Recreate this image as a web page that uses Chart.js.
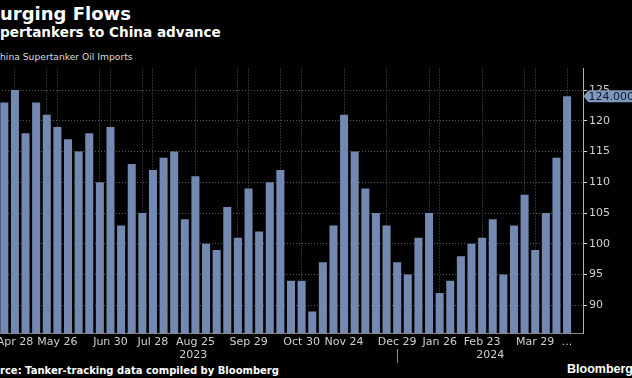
<!DOCTYPE html>
<html>
<head>
<meta charset="utf-8">
<script src="https://cdn.jsdelivr.net/npm/chart.js@4/dist/chart.umd.min.js"></script>
<style>
  html, body { margin: 0; padding: 0; background: #000; }
  #wrap { position: relative; width: 632px; height: 378px; overflow: hidden; background: #000; }
  .t { position: absolute; white-space: nowrap; line-height: 1; font-family: "DejaVu Sans", sans-serif; color: #fff; }
  #title { font-weight: bold; font-size: 18px; top: 4.8px; }
  #sub { font-weight: bold; font-size: 13.6px; top: 26.2px; }
  #unit { font-size: 9.2px; top: 51.5px; color: #ddd; }
  #src { font-weight: bold; font-size: 10px; top: 365.5px; }
  #brand { font-family: "Liberation Sans", sans-serif; font-weight: bold; font-size: 12.5px; top: 363px; right: -1px; }
  canvas { position: absolute; left: -1px; top: 60px; }
</style>
</head>
<body>
<div id="wrap">
  <div class="t" id="title"><span class="cut">S</span>urging Flows</div>
  <div class="t" id="sub"><span class="cut">Su</span>pertankers to China advance</div>
  <div class="t" id="unit"><span class="cut">C</span>hina Supertanker Oil Imports</div>
  <div class="t" id="src"><span class="cut">Sou</span>rce: Tanker-tracking data compiled by Bloomberg</div>
  <div class="t" id="brand">Bloomberg</div>
  <canvas id="c" width="640" height="318"></canvas>
</div>
<script>
// ---- data ----
const imports = [123,125,118,123,121,119,117,115,118,110,119,103,113,105,112,114,115,104,111,100,
                 99,106,101,109,102,110,112,94,94,89,97,103,121,115,109,105,103,97,95,101,
                 105,92,94,98,100,101,104,95,103,108,99,105,114,124];
const tickIdx  = [1, 5, 10, 14, 18, 23, 28, 32, 37, 41, 45, 50, 53];
const tickText = ['Apr 28','May 26','Jun 30','Jul 28','Aug 25','Sep 29','Oct 30','Nov 24','Dec 29','Jan 26','Feb 23','Mar 29','...'];
const gridIdx  = [1,4,5,9,10,13,14,18,22,23,26,28,32,36,40,41,45,49,50,53];
const yTicks   = [90, 95, 100, 105, 110, 115, 120, 125];
const years    = ['2023', '2024'];
const lastValueText = '124.000';

// categories (one trailing empty slot for right padding)
const categories = new Array(imports.length + 1).fill('');
tickIdx.forEach((ix, k) => { categories[ix] = tickText[k]; });

// cut header prefixes (reference is cropped on the left)
document.querySelectorAll('.t').forEach(el => {
  const cut = el.querySelector('.cut');
  if (cut) el.style.left = (-cut.getBoundingClientRect().width) + 'px';
});

const FONT = "'DejaVu Sans', sans-serif";
Chart.defaults.font.family = FONT;

const CW = 640, CH = 318;
const AREA_RIGHT = 584, AREA_BOTTOM = 273;

const extras = {
  id: 'extras',
  afterDraw(chart) {
    const ctx = chart.ctx, xs = chart.scales.x, ys = chart.scales.y, ca = chart.chartArea;
    ctx.save();
    // year separator
    const sx = Math.round(xs.getPixelForValue(37)) + 0.5;
    ctx.strokeStyle = '#8a8a8a'; ctx.lineWidth = 1;
    ctx.beginPath(); ctx.moveTo(sx, 289); ctx.lineTo(sx, 303); ctx.stroke();
    // year labels
    ctx.fillStyle = '#d0d0d0';
    ctx.font = '11px ' + FONT;
    ctx.textAlign = 'center'; ctx.textBaseline = 'middle';
    ctx.fillText(years[0], xs.getPixelForValue(17.8), 295);
    ctx.fillText(years[1], (sx + ca.right) / 2, 295);
    // last value tag
    const v = imports[imports.length - 1];
    const y = ys.getPixelForValue(v);
    const x0 = ca.right + 0.5, h = 12, w = 60;
    ctx.fillStyle = '#8098bc';
    ctx.beginPath();
    ctx.moveTo(x0, y);
    ctx.lineTo(x0 + 5, y - h / 2);
    ctx.lineTo(x0 + w, y - h / 2);
    ctx.lineTo(x0 + w, y + h / 2);
    ctx.lineTo(x0 + 5, y + h / 2);
    ctx.closePath();
    ctx.fill();
    ctx.fillStyle = '#0d1a2c';
    ctx.textAlign = 'left';
    ctx.fillText(lastValueText, x0 + 5, y + 0.5);
    ctx.restore();
  }
};

new Chart(document.getElementById('c'), {
  type: 'bar',
  data: {
    labels: categories,
    datasets: [{
      data: imports,
      backgroundColor: '#7389b1',
      borderWidth: 0,
      barPercentage: 0.755,
      categoryPercentage: 1
    }]
  },
  options: {
    responsive: false,
    animation: false,
    devicePixelRatio: 1,
    layout: { padding: { top: 6, left: 0, right: 0, bottom: 0 } },
    plugins: { legend: { display: false }, tooltip: { enabled: false } },
    scales: {
      x: {
        offset: true,
        grid: {
          offset: false,
          drawTicks: false,
          lineWidth: 1,
          color: (c) => gridIdx.includes(c.index) ? '#5a5a5a' : 'rgba(0,0,0,0)'
        },
        border: { display: true, color: '#8a8a8a', width: 1, dash: [1, 2] },
        ticks: {
          autoSkip: false, maxRotation: 0, minRotation: 0, padding: 3,
          color: '#d0d0d0', font: { size: 11, family: FONT },
          callback: (val, i) => categories[i]
        },
        afterFit(scale) { scale.height = CH - AREA_BOTTOM; }
      },
      y: {
        position: 'right',
        min: 85.5, max: 128.5,
        afterBuildTicks(scale) { scale.ticks = yTicks.map(v => ({ value: v })); },
        grid: {
          color: '#5a5a5a', lineWidth: 1,
          drawTicks: true, tickLength: 4, tickColor: '#d8d8d8', tickBorderDash: [], tickWidth: 1
        },
        border: { display: true, color: '#b0b0b0', width: 1, dash: [1, 2] },
        ticks: {
          padding: 2, color: '#d0d0d0', font: { size: 11, family: FONT },
          callback: (v) => String(v)
        },
        afterFit(scale) { scale.width = CW - AREA_RIGHT; }
      }
    }
  },
  plugins: [extras]
});
</script>
</body>
</html>
